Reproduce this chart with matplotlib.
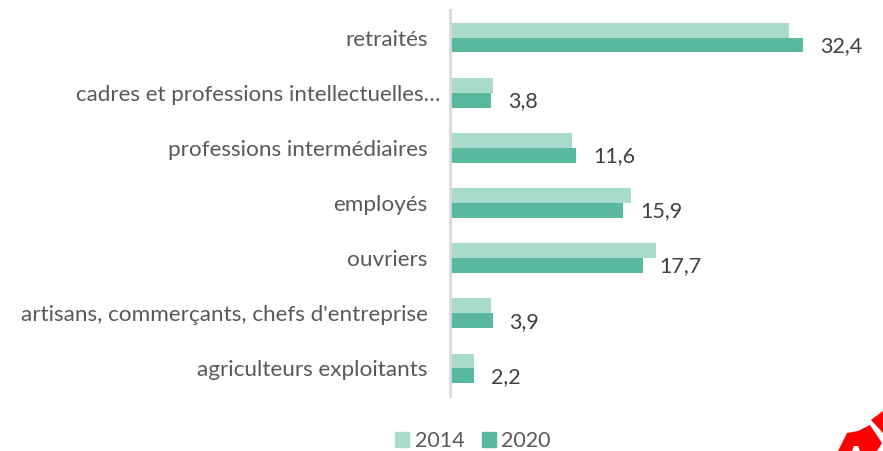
import matplotlib
matplotlib.use('Agg')
import matplotlib.pyplot as plt
from matplotlib.patches import Polygon, Patch
from matplotlib.transforms import ScaledTranslation
import numpy as np

# Categories from top to bottom
categories = ['retraités', 'cadres et professions intellectuelles…', 'professions intermédiaires',
              'employés', 'ouvriers', "artisans, commerçants, chefs d'entreprise", 'agriculteurs exploitants']
values_2014 = [31.1, 3.9, 11.2, 16.6, 18.9, 3.8, 2.2]
values_2020 = [32.4, 3.8, 11.6, 15.9, 17.7, 3.9, 2.2]
value_labels = ['32,4', '3,8', '11,6', '15,9', '17,7', '3,9', '2,2']

color_2014 = '#A9DBCB'
color_2020 = '#59B99E'
W, H = 883, 451

plt.rcParams['font.family'] = ['Lato', 'DejaVu Sans']
fig = plt.figure(figsize=(W / 100, H / 100), dpi=100)
ax = fig.add_axes([450 / W, 1 - 396 / H, 433 / W, 386 / H])

y = np.arange(len(categories))
h = 0.27
ax.barh(y - h / 2, values_2014, height=h, color=color_2014)
ax.barh(y + h / 2, values_2020, height=h, color=color_2020)

ax.set_ylim(len(categories) - 0.5, -0.5)
ax.set_xlim(0, 433 / 10.9)
ax.set_xticks([])
ax.set_yticks(y)
ax.set_yticklabels(categories, fontsize=16.2, color='#595959')
ax.tick_params(axis='y', length=0, pad=16)
for s in ['top', 'right', 'bottom']:
    ax.spines[s].set_visible(False)
ax.spines['left'].set_color('#D9D9D9')
ax.spines['left'].set_linewidth(2)

# The truncated label runs further right than the others, almost to the axis
long_label = ax.get_yticklabels()[1]
long_label.set_fontsize(16)
long_label.set_transform(long_label.get_transform() + ScaledTranslation(0.13, 0, fig.dpi_scale_trans))

# Value labels sit a bit under the 2020 bar
for i, v in enumerate(values_2020):
    ax.annotate(value_labels[i], xy=(v, i), xytext=(12, -6), textcoords='offset points',
                fontsize=15.5, color='#404040', va='center', ha='left')

handles = [Patch(color=color_2014, label='2014'), Patch(color=color_2020, label='2020')]
fig.legend(handles=handles, loc='center', bbox_to_anchor=(473 / W, 1 - 441 / H), ncol=2, frameon=False,
           fontsize=15.5, labelcolor='#595959', handlelength=0.65, handleheight=0.65,
           handletextpad=0.25, columnspacing=0.8, borderpad=0, borderaxespad=0)

# Red pen logo cut off in the corner
def px(points):
    return [(a / W, 1 - b / H) for a, b in points]

fig.add_artist(Polygon(px([(847, 433), (858, 431), (870, 425), (882, 443), (877, 451), (838, 451)]),
                       closed=True, color='#FF0000', lw=0, transform=fig.transFigure))
fig.add_artist(Polygon(px([(871, 420), (883, 411), (883, 433)]),
                       closed=True, color='#FF0000', lw=0, transform=fig.transFigure))
fig.add_artist(Polygon(px([(852, 451), (854, 446), (858, 446), (860, 451)]),
                       closed=True, color='white', lw=0, transform=fig.transFigure))

fig.savefig('out.png', dpi=100)
